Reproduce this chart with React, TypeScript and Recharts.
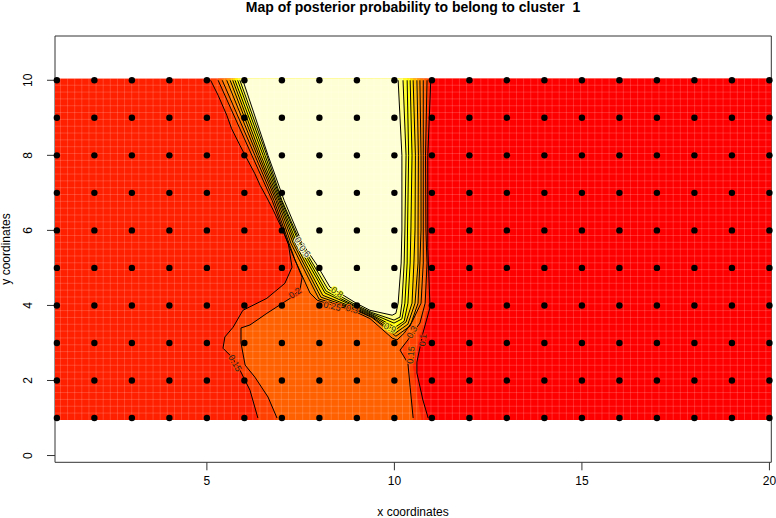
import { ReferenceArea, Scatter, ScatterChart, XAxis, YAxis } from 'recharts';

type Pt = { x: number; y: number };

const FONT = '"Liberation Sans", Arial, sans-serif';

const gridX = [1, 2, 3, 4, 5, 6, 7, 8, 9, 10, 11, 12, 13, 14, 15, 16, 17, 18, 19, 20];
const gridY = [1, 2, 3, 4, 5, 6, 7, 8, 9, 10];
const xTicks = [5, 10, 15, 20];
const yTicks = [0, 2, 4, 6, 8, 10];

// contour lines, top of the map downwards
const lineOuterRight: Pt[] = [
  { x: 10.97, y: 10 }, { x: 10.89, y: 8 }, { x: 10.89, y: 5.55 }, { x: 10.95, y: 3.95 }, { x: 10.76, y: 3.26 },
  { x: 10.6, y: 2.49 }, { x: 10.6, y: 2.2 }, { x: 10.76, y: 1.48 }, { x: 10.9, y: 1 },
];
const lineRight15: Pt[] = [
  { x: 10.87, y: 10 }, { x: 10.83, y: 8 }, { x: 10.84, y: 6.01 }, { x: 10.87, y: 5.13 }, { x: 10.82, y: 4.06 },
  { x: 10.68, y: 3.53 }, { x: 10.36, y: 3.08 }, { x: 10.15, y: 2.81 }, { x: 10.36, y: 2.46 }, { x: 10.42, y: 1.82 },
  { x: 10.5, y: 1 },
];
const edgeRight40: Pt[] = [
  { x: 10.92, y: 10 }, { x: 10.86, y: 8 }, { x: 10.87, y: 5.55 }, { x: 10.89, y: 3.95 }, { x: 10.72, y: 3.3 },
  { x: 10.48, y: 2.5 }, { x: 10.52, y: 2.2 }, { x: 10.62, y: 1.48 }, { x: 10.72, y: 1 },
];
const lineLeft15: Pt[] = [
  { x: 5.1, y: 10 }, { x: 5.3, y: 9.6 }, { x: 5.53, y: 9.07 }, { x: 5.66, y: 8.71 }, { x: 5.88, y: 8.27 },
  { x: 6.02, y: 8 }, { x: 6.28, y: 7.51 }, { x: 6.42, y: 7.2 }, { x: 6.59, y: 6.89 }, { x: 6.77, y: 6.54 },
  { x: 7, y: 6.05 }, { x: 7.17, y: 5.65 }, { x: 7.27, y: 5.02 }, { x: 7.08, y: 4.59 }, { x: 6.6, y: 4.19 },
  { x: 5.96, y: 3.87 }, { x: 5.7, y: 3.42 }, { x: 5.48, y: 3.16 }, { x: 5.43, y: 2.86 }, { x: 5.67, y: 2.62 },
  { x: 5.88, y: 2.28 }, { x: 6.15, y: 1.74 }, { x: 6.36, y: 1 },
];
const lineLeft20: Pt[] = [
  { x: 5.3, y: 10 }, { x: 6.2, y: 8 }, { x: 6.74, y: 6.8 }, { x: 7.16, y: 5.66 }, { x: 7.35, y: 5.21 },
  { x: 7.54, y: 4.75 }, { x: 7.48, y: 4.41 }, { x: 7.22, y: 4.19 }, { x: 6.6, y: 3.79 }, { x: 6.15, y: 3.48 },
  { x: 5.91, y: 3.4 }, { x: 5.91, y: 3 }, { x: 6.02, y: 2.41 }, { x: 6.28, y: 2.09 }, { x: 6.63, y: 1.56 },
  { x: 6.87, y: 1 },
];

const fan0: Pt[] = [
  { x: 5.41, y: 10 }, { x: 6.28, y: 8 }, { x: 6.79, y: 6.8 }, { x: 7.19, y: 5.66 }, { x: 7.35, y: 5.21 },
  { x: 7.75, y: 4.33 }, { x: 7.94, y: 4.14 }, { x: 8.34, y: 4.01 }, { x: 8.79, y: 3.91 }, { x: 9.35, y: 3.65 },
  { x: 9.94, y: 3.13 }, { x: 10.07, y: 3.08 }, { x: 10.26, y: 3.26 }, { x: 10.47, y: 3.56 }, { x: 10.71, y: 4.06 },
  { x: 10.77, y: 5.13 }, { x: 10.77, y: 6.01 }, { x: 10.77, y: 8 }, { x: 10.77, y: 10 },
];
const fan1: Pt[] = [
  { x: 5.53, y: 10 }, { x: 6.34, y: 8 }, { x: 6.84, y: 6.8 }, { x: 7.24, y: 5.66 }, { x: 7.99, y: 4.17 },
  { x: 8.84, y: 3.93 }, { x: 9.4, y: 3.68 }, { x: 10.04, y: 3.18 }, { x: 10.42, y: 3.45 }, { x: 10.63, y: 4.06 },
  { x: 10.68, y: 5.13 }, { x: 10.71, y: 6.01 }, { x: 10.71, y: 8 }, { x: 10.68, y: 10 },
];
const fan2: Pt[] = [
  { x: 5.62, y: 10 }, { x: 6.39, y: 8 }, { x: 6.88, y: 6.8 }, { x: 7.3, y: 5.66 }, { x: 8.04, y: 4.22 },
  { x: 8.86, y: 3.94 }, { x: 9.4, y: 3.7 }, { x: 10.02, y: 3.26 }, { x: 10.36, y: 3.5 }, { x: 10.55, y: 4.06 },
  { x: 10.63, y: 5.13 }, { x: 10.63, y: 6.01 }, { x: 10.64, y: 8 }, { x: 10.6, y: 10 },
];
const fan3: Pt[] = [
  { x: 5.69, y: 10 }, { x: 6.44, y: 8 }, { x: 6.92, y: 6.8 }, { x: 7.35, y: 5.66 }, { x: 8.09, y: 4.27 },
  { x: 8.9, y: 3.95 }, { x: 9.4, y: 3.73 }, { x: 10.02, y: 3.34 }, { x: 10.31, y: 3.56 }, { x: 10.47, y: 4.06 },
  { x: 10.52, y: 5.13 }, { x: 10.55, y: 6.01 }, { x: 10.56, y: 8 }, { x: 10.5, y: 10 },
];
const fan4: Pt[] = [
  { x: 5.75, y: 10 }, { x: 6.5, y: 8 }, { x: 6.95, y: 6.8 }, { x: 7.4, y: 5.66 }, { x: 8.15, y: 4.33 },
  { x: 8.92, y: 3.98 }, { x: 9.4, y: 3.75 }, { x: 10.02, y: 3.42 }, { x: 10.26, y: 3.58 }, { x: 10.36, y: 4.06 },
  { x: 10.42, y: 5.13 }, { x: 10.44, y: 6.01 }, { x: 10.47, y: 8 }, { x: 10.42, y: 10 },
];
const fan5: Pt[] = [
  { x: 5.82, y: 10 }, { x: 6.55, y: 8 }, { x: 6.98, y: 6.8 }, { x: 7.46, y: 5.66 }, { x: 8.18, y: 4.38 },
  { x: 8.95, y: 3.99 }, { x: 9.4, y: 3.78 }, { x: 9.99, y: 3.53 }, { x: 10.2, y: 3.64 }, { x: 10.28, y: 4.06 },
  { x: 10.34, y: 5.13 }, { x: 10.35, y: 6.01 }, { x: 10.38, y: 8 }, { x: 10.34, y: 10 },
];
const fan6: Pt[] = [
  { x: 5.88, y: 10 }, { x: 6.6, y: 8 }, { x: 7, y: 6.8 }, { x: 7.5, y: 5.66 }, { x: 8.23, y: 4.43 },
  { x: 8.98, y: 4.01 }, { x: 9.4, y: 3.81 }, { x: 9.99, y: 3.61 }, { x: 10.15, y: 3.69 }, { x: 10.2, y: 4.06 },
  { x: 10.26, y: 5.13 }, { x: 10.28, y: 6.01 }, { x: 10.31, y: 8 }, { x: 10.23, y: 10 },
];
const fan7: Pt[] = [
  { x: 5.96, y: 10 }, { x: 6.63, y: 8 }, { x: 7.06, y: 6.8 }, { x: 7.54, y: 5.66 }, { x: 7.94, y: 5.07 },
  { x: 8.28, y: 4.49 }, { x: 9, y: 4.05 }, { x: 9.35, y: 3.87 }, { x: 9.94, y: 3.74 }, { x: 10.04, y: 3.79 },
  { x: 10.1, y: 4.06 }, { x: 10.18, y: 5.13 }, { x: 10.2, y: 6.01 }, { x: 10.2, y: 8 }, { x: 10.1, y: 10 },
];

const fans = [fan0, fan1, fan2, fan3, fan4, fan5, fan6, fan7];
const fanColors = ['#FF8000', '#FF9F00', '#FFBF00', '#FFDF00', '#FFFF00', '#FFFF2A', '#FFFF80', '#FFFFD5'];

const labelTexts = ['0.15', '0.2', '0.25', '0.3', '0.15', '0.3', '0.1', '0.7', '0.6', '0.8', '0.9'];
const labelX = [5.75, 7.35, 8.34, 8.87, 10.44, 10.47, 10.76, 7.48, 7.61, 8.47, 9.88];
const labelY = [2.46, 4.33, 3.98, 3.9, 2.68, 3.29, 3.08, 5.66, 5.45, 4.35, 3.4];
const labelAngles = [60, -35, 12, 15, -85, -60, -85, 60, 50, 35, 25];
const labelBacks = ['#FF4000', '#FF4000', '#FF6000', '#FF6000', '#FF6000', '#FF6000', '#FF2000', '#FFFFD5', '#FFFFD5', '#FFFF2A', '#FFFF2A'];

const xMin = 0.95;
const xMax = 20.05;
const yMin = -0.18;
const yMax = 11.18;
const imgTop = 10.05;
const imgBottom = 0.95;

// the map polygons run a little past the last grid row, like the image cells do
const padded = (pts: Pt[]): Pt[] => {
  const out: Pt[] = [];
  pts.forEach((p, i) => {
    const isEnd = i === 0 || i === pts.length - 1;
    if (isEnd && p.y === 10 && i === 0) out.push({ x: p.x, y: imgTop });
    if (isEnd && p.y === 1 && i === 0) out.push({ x: p.x, y: imgBottom });
    out.push(p);
    if (isEnd && p.y === 10 && i > 0) out.push({ x: p.x, y: imgTop });
    if (isEnd && p.y === 1 && i > 0) out.push({ x: p.x, y: imgBottom });
  });
  return out;
};

const basePoly: Pt[] = [
  { x: xMin, y: imgTop }, { x: xMax, y: imgTop }, { x: xMax, y: imgBottom }, { x: xMin, y: imgBottom },
];
const redPoly: Pt[] = [...padded(lineOuterRight), { x: xMax, y: imgBottom }, { x: xMax, y: imgTop }];
const band40Poly: Pt[] = [...padded(lineLeft15), ...padded([...edgeRight40].reverse())];
const band60Poly: Pt[] = [...padded(lineLeft20), ...padded([...lineRight15].reverse())];

const dots: Pt[] = gridY.flatMap((y) => gridX.map((x) => ({ x, y })));
const labelPoints = labelTexts.map((text, i) => ({
  x: labelX[i],
  y: labelY[i],
  text,
  angle: labelAngles[i],
  back: labelBacks[i],
}));

// seams between image cells, drawn as pairs of end points
const seamPoints: Pt[] = [
  ...Array.from({ length: 101 }, (_, i) => 0.905 + 0.19 * i)
    .filter((v) => v > xMin && v < xMax)
    .flatMap((v) => [{ x: v, y: imgBottom }, { x: v, y: imgTop }]),
  ...Array.from({ length: 51 }, (_, i) => imgBottom + 0.182 * i)
    .filter((v) => v > imgBottom && v < imgTop)
    .flatMap((v) => [{ x: xMin, y: v }, { x: xMax, y: v }]),
];

const noDot = () => <g />;

const fillPolygon = (color: string) => (props: any) => (
  <polygon points={props.points.map((p: any) => `${p.x},${p.y}`).join(' ')} fill={color} stroke="none" />
);

const seamLines = (props: any) => {
  let d = '';
  props.points.forEach((p: any, i: number) => {
    d += `${i % 2 === 0 ? 'M' : 'L'}${p.x} ${p.y} `;
  });
  return <path d={d} fill="none" stroke="#fff" strokeOpacity={0.17} strokeWidth={1} />;
};

const YTick = ({ x, y, payload }: any) => (
  <text
    x={x - 13}
    y={y}
    transform={`rotate(-90 ${x - 13} ${y})`}
    textAnchor="middle"
    fontSize={12}
    fontFamily={FONT}
    fill="#000"
  >
    {payload.value}
  </text>
);

// halo first, then the digits on top, so the contour line looks broken under the label
const ContourLabel = ({ cx, cy, payload }: any) => {
  const common = {
    x: cx,
    y: cy,
    dy: 3,
    transform: `rotate(${payload.angle} ${cx} ${cy})`,
    textAnchor: 'middle',
    fontSize: 9,
    fontFamily: FONT,
  } as const;
  return (
    <g>
      <text {...common} fill={payload.back} stroke={payload.back} strokeWidth={2}>
        {payload.text}
      </text>
      <text {...common} fill="#222">
        {payload.text}
      </text>
    </g>
  );
};

export default function App() {
  const polygons: [Pt[], string][] = [
    [basePoly, '#FF2000'],
    [redPoly, '#FF0000'],
    [band40Poly, '#FF4000'],
    [band60Poly, '#FF6000'],
  ];
  fans.forEach((f, i) => polygons.push([padded(f), fanColors[i]]));

  const contours = [lineOuterRight, lineRight15, lineLeft15, lineLeft20, ...fans];

  return (
    <div style={{ position: 'absolute', left: 0, top: 0 }}>
      <ScatterChart width={776} height={518} margin={{ top: 36, right: 4.7, bottom: 0, left: 0 }}>
        <XAxis
          type="number"
          dataKey="x"
          domain={[xMin, xMax]}
          ticks={xTicks}
          interval={0}
          height={55.7}
          axisLine={false}
          tickSize={8}
          tickMargin={6}
          tickLine={{ stroke: '#333' }}
          tick={{ fontSize: 12, fontFamily: FONT, fill: '#000' }}
        />
        <YAxis
          type="number"
          dataKey="y"
          domain={[yMin, yMax]}
          ticks={yTicks}
          interval={0}
          width={55}
          axisLine={false}
          tickSize={8}
          tickLine={{ stroke: '#333' }}
          tick={YTick}
        />

        {polygons.map(([pts, color], i) => (
          <Scatter
            key={`poly-${i}`}
            data={pts}
            shape={noDot}
            line={fillPolygon(color)}
            lineType="joint"
            isAnimationActive={false}
          />
        ))}

        <Scatter data={seamPoints} shape={noDot} line={seamLines} lineType="joint" isAnimationActive={false} />

        {contours.map((pts, i) => (
          <Scatter
            key={`contour-${i}`}
            data={pts}
            shape={noDot}
            line={{ stroke: '#000', strokeWidth: 1 }}
            lineType="joint"
            isAnimationActive={false}
          />
        ))}

        <Scatter data={labelPoints} shape={ContourLabel} isAnimationActive={false} />
        <Scatter
          data={dots}
          fill="#000"
          shape={(p: any) => <circle cx={p.cx} cy={p.cy} r={3.2} fill="#000" />}
          isAnimationActive={false}
        />

        <ReferenceArea x1={xMin} x2={xMax} y1={yMin} y2={yMax} fill="none" stroke="#333" strokeWidth={1} />

        <text
          x={413}
          y={12}
          textAnchor="middle"
          fontSize={14}
          fontWeight="bold"
          fontFamily={FONT}
          fill="#000"
          style={{ whiteSpace: 'pre' }}
        >
          Map of posterior probability to belong to cluster  1
        </text>
        <text x={413} y={516} textAnchor="middle" fontSize={12} fontFamily={FONT} fill="#000">
          x coordinates
        </text>
        <text x={10} y={249} transform="rotate(-90 10 249)" textAnchor="middle" fontSize={12} fontFamily={FONT} fill="#000">
          y coordinates
        </text>
      </ScatterChart>
    </div>
  );
}
